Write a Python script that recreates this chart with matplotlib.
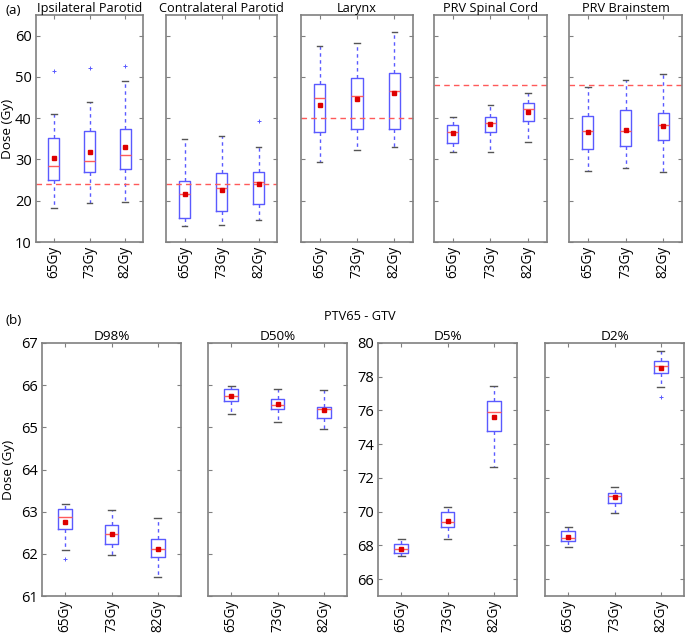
import matplotlib
matplotlib.use('Agg')
import matplotlib.pyplot as plt

plt.rcParams['font.family'] = ['Open Sans', 'DejaVu Sans']

# dose levels (x tick labels)
levels = ['65Gy', '73Gy', '82Gy']

# organs at risk (top row)
oar_names = ['Ipsilateral Parotid', 'Contralateral Parotid', 'Larynx',
             'PRV Spinal Cord', 'PRV Brainstem']
oar_limits = [24, 24, 40, 48, 48]
# per organ, per level: [lower whisker, q1, median, q3, upper whisker, mean]
ipsi = [[18.3, 25.1, 28.3, 35.2, 41.0, 30.3],
        [19.5, 27.0, 29.7, 36.8, 44.0, 31.8],
        [19.7, 27.6, 31.2, 37.4, 49.0, 33.1]]
contra = [[13.8, 15.7, 21.7, 24.9, 35.0, 21.6],
          [14.1, 17.5, 23.2, 26.6, 35.6, 22.7],
          [15.3, 19.3, 24.5, 26.9, 33.1, 24.0]]
larynx = [[29.5, 36.6, 45.0, 48.4, 57.5, 43.3],
          [32.2, 37.5, 45.4, 49.8, 58.3, 44.6],
          [32.9, 37.5, 46.6, 50.9, 60.8, 46.0]]
spinal = [[31.9, 34.1, 36.6, 38.3, 40.4, 36.4],
          [31.7, 36.7, 38.9, 40.4, 43.3, 38.6],
          [34.3, 39.3, 42.2, 43.7, 46.1, 41.4]]
brainstem = [[27.3, 32.6, 36.9, 40.6, 47.6, 36.7],
             [28.0, 33.3, 37.0, 42.0, 49.3, 37.2],
             [27.0, 34.7, 38.4, 41.3, 50.8, 38.2]]
oar_fliers = [[[51.4], [52.2], [52.6]],
              [[], [], [39.2]],
              [[], [], []],
              [[], [], []],
              [[], [], []]]

# PTV65 - GTV (bottom row)
ptv_names = ['D98%', 'D50%', 'D5%', 'D2%']
d98 = [[62.08, 62.59, 62.88, 63.06, 63.18, 62.75],
       [61.97, 62.23, 62.47, 62.68, 63.05, 62.48],
       [61.44, 61.92, 62.11, 62.36, 62.84, 62.12]]
d50 = [[65.32, 65.63, 65.74, 65.92, 65.98, 65.75],
       [65.13, 65.43, 65.54, 65.67, 65.90, 65.56],
       [64.97, 65.21, 65.43, 65.48, 65.88, 65.40]]
d5 = [[67.37, 67.57, 67.80, 68.06, 68.36, 67.80],
      [68.36, 69.09, 69.40, 69.96, 70.26, 69.44],
      [72.66, 74.76, 75.89, 76.58, 77.47, 75.63]]
d2 = [[67.89, 68.26, 68.42, 68.84, 69.09, 68.52],
      [69.90, 70.49, 70.93, 71.11, 71.46, 70.85],
      [77.41, 78.20, 78.62, 78.95, 79.51, 78.50]]
ptv_fliers = [[[61.88], [], []],
              [[], [], []],
              [[], [], []],
              [[], [], [76.81]]]

BOX = '#5a5aff'
MED = '#ff5a5a'
CAP = '#555555'
SPINE = '#808080'
FS = 9.2
YFS = 10.5


def make_stats(rows, fliers):
    stats = []
    for r, f in zip(rows, fliers):
        stats.append({'whislo': r[0], 'q1': r[1], 'med': r[2], 'q3': r[3],
                      'whishi': r[4], 'mean': r[5], 'fliers': f})
    return stats


def draw(ax, rows, fliers):
    ax.bxp(make_stats(rows, fliers), widths=0.3, showmeans=True,
           boxprops=dict(color=BOX, lw=1.0),
           whiskerprops=dict(color=BOX, lw=1.0, ls=(0, (2.5, 2.5))),
           capprops=dict(color=CAP, lw=1.0),
           medianprops=dict(color=MED, lw=1.0),
           meanprops=dict(marker='s', markerfacecolor='#dd0000',
                          markeredgecolor='#dd0000', markersize=3),
           flierprops=dict(marker='+', markeredgecolor=BOX, markersize=3.5,
                           markeredgewidth=0.7))
    ax.set_xticks([1, 2, 3])
    ax.set_xticklabels(levels, rotation=90, fontsize=9.8)
    ax.set_xlim(0.5, 3.5)
    ax.tick_params(direction='in', top=True, right=True, length=3,
                   color=SPINE, pad=3)
    ax.tick_params(axis='y', labelsize=YFS)
    for s in ax.spines.values():
        s.set_color(SPINE)
        s.set_linewidth(1.2)


fig = plt.figure(figsize=(6.85, 6.33), dpi=100)
W, H = 685.0, 633.0

# top row
top_lefts = [(36, 107), (166, 111), (301, 112), (434, 113), (569, 113)]
oar_data = [ipsi, contra, larynx, spinal, brainstem]
for i, (x0, w) in enumerate(top_lefts):
    ax = fig.add_axes([x0 / W, (H - 242) / H, w / W, 227 / H])
    draw(ax, oar_data[i], oar_fliers[i])
    ax.axhline(oar_limits[i], color=MED, lw=1, ls=(0, (4, 3)))
    ax.set_ylim(10, 65)
    ax.set_yticks([10, 20, 30, 40, 50, 60])
    ax.set_title(oar_names[i], fontsize=FS, pad=2)
    if i == 0:
        ax.set_ylabel('Dose (Gy)', fontsize=FS + 0.5, labelpad=1)
    else:
        ax.set_yticklabels([])

# bottom row
bot_lefts = [42, 208, 378, 545]
ptv_data = [d98, d50, d5, d2]
for i, x0 in enumerate(bot_lefts):
    ax = fig.add_axes([x0 / W, (H - 596) / H, 139 / W, 253 / H])
    draw(ax, ptv_data[i], ptv_fliers[i])
    if i < 2:
        ax.set_ylim(61, 67)
        ax.set_yticks(range(61, 68))
    else:
        ax.set_ylim(65, 80)
        ax.set_yticks(range(66, 81, 2))
    ax.set_title(ptv_names[i], fontsize=FS + 0.5, pad=2)
    if i == 0:
        ax.set_ylabel('Dose (Gy)', fontsize=FS + 0.5, labelpad=4)
    if i in (1, 3):
        ax.set_yticklabels([])

fig.text(5 / W, 1 - 11 / H, '(a)', fontsize=FS + 0.5, va='center')
fig.text(5 / W, 1 - 321 / H, '(b)', fontsize=FS + 0.5, va='center')
fig.text(360 / W, 1 - 316 / H, 'PTV65 - GTV', fontsize=FS, ha='center', va='center')

fig.savefig('out.png', dpi=100)
print("Generated plot")
